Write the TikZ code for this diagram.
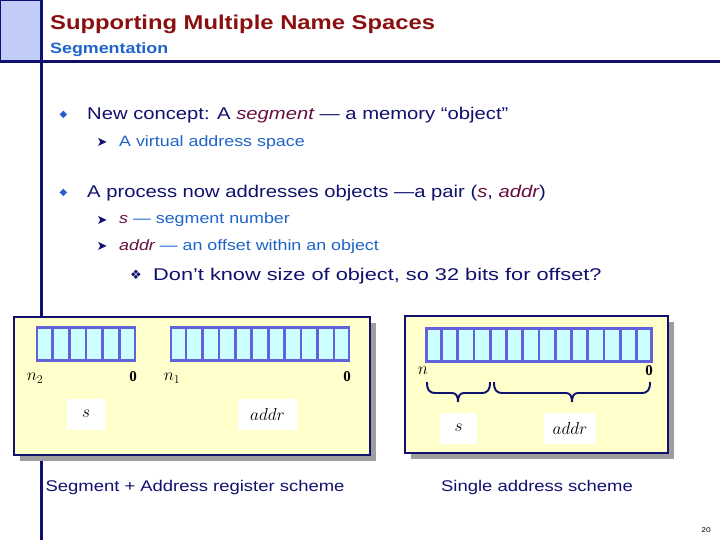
\documentclass[tikz,border=0pt]{standalone}
\usepackage{fontspec}
\setmainfont{Liberation Sans}[FakeStretch=1.19]
\newfontfamily\widefont{Liberation Sans}[FakeStretch=1.28]
\newfontfamily\symfont{DejaVu Sans}
\newfontfamily\serfont{Liberation Serif}
\usetikzlibrary{shadows,calc}
\definecolor{navy}{HTML}{10106E}
\definecolor{titlered}{HTML}{8A1010}
\definecolor{subblue}{HTML}{1E64C8}
\definecolor{itpurple}{HTML}{66103F}
\definecolor{sidefill}{HTML}{C2CCF8}
\definecolor{panelfill}{HTML}{FFFFCC}
\definecolor{regblue}{HTML}{6262DC}
\definecolor{regfill}{HTML}{CCFFFF}
\definecolor{bulletblue}{HTML}{2A5CD0}
\tikzset{
  txt/.style={inner sep=0pt, anchor=base west},
  dia/.style={inner sep=0pt, text=bulletblue, font=\symfont\fontsize{10}{12}\selectfont},
  arr/.style={inner sep=0pt, text=navy, font=\symfont\fontsize{13}{14}\selectfont},
  panel/.style={draw=navy, line width=2.2pt, fill=panelfill, inner sep=0pt,
    drop shadow={shadow xshift=6pt, shadow yshift=-6pt, fill=black!38, opacity=1}},
  reg/.style={draw=regblue, line width=2.6pt, fill=regfill, inner sep=0pt, minimum height=33pt},
  regline/.style={draw=regblue, line width=2.6pt},
  lbl/.style={inner sep=0pt, font=\fontsize{17.5}{20}\selectfont},
  zero/.style={inner sep=0pt, font=\serfont\bfseries\fontsize{15}{18}\selectfont},
  whitebox/.style={fill=white, inner sep=0pt, minimum height=31pt},
  brc/.style={draw=navy, line width=1.9pt},
  caption/.style={inner sep=0pt, text=navy, font=\fontsize{15.5}{18}\selectfont},
}
\begin{document}
\begin{tikzpicture}[x=1pt, y=-1pt]
\useasboundingbox (0,0) rectangle (720,540);
% header
\draw[navy, line width=1.5pt, fill=sidefill] (0,0) rectangle (40.5,61);
\draw[navy, line width=3pt] (0,61.5) -- (720,61.5);
\draw[navy, line width=3pt] (41.5,0) -- (41.5,540);
\node[txt, text=titlered, font=\bfseries\fontsize{20}{24}\selectfont] (title) at (50,29.5) {Supporting Multiple Name Spaces};
\node[txt, text=subblue, font=\bfseries\fontsize{15}{18}\selectfont] (subtitle) at (50,53.5) {Segmentation};
% bullets
\node[dia] (b1) at (63.5,114.5) {◆};
\node[txt, text=navy, font=\fontsize{17}{20}\selectfont] (t1) at (87,120) {New concept: A \textcolor{itpurple}{\itshape segment} — a memory “object”};
\node[arr] (a1) at (102,142) {➤};
\node[txt, text=subblue, font=\fontsize{15}{18}\selectfont] (t11) at (119,146.5) {A virtual address space};
\node[dia] (b2) at (63.5,192.5) {◆};
\node[txt, text=navy, font=\fontsize{17}{20}\selectfont] (t2) at (87,198) {A process now addresses objects —a pair (\textcolor{itpurple}{\itshape s}, \textcolor{itpurple}{\itshape addr})};
\node[arr] (a2) at (102,220) {➤};
\node[txt, text=subblue, font=\fontsize{15}{18}\selectfont] (t21) at (119,224) {\textcolor{itpurple}{\itshape s} — segment number};
\node[arr] (a3) at (102,246) {➤};
\node[txt, text=subblue, font=\fontsize{15}{18}\selectfont] (t22) at (119,250) {\textcolor{itpurple}{\itshape addr} — an offset within an object};
\node[txt, text=navy, font=\symfont\fontsize{13}{13}\selectfont] (a4) at (130,279) {❖};
\node[txt, text=navy, font=\widefont\fontsize{17}{20}\selectfont] (t3) at (153,280.5) {Don’t know size of object, so 32 bits for offset?};
% left panel
\node[panel, minimum width=356pt, minimum height=138pt] (lpanel) at (192,386) {};
\node[reg, minimum width=98pt] (lreg) at (86,344) {};
\foreach \i in {1,...,5}
  \draw[regline] ($(lreg.north west)!\i/6!(lreg.north east)$) -- ($(lreg.south west)!\i/6!(lreg.south east)$);
\node[reg, minimum width=178pt] (mreg) at (260,344) {};
\foreach \i in {1,...,10}
  \draw[regline] ($(mreg.north west)!\i/11!(mreg.north east)$) -- ($(mreg.south west)!\i/11!(mreg.south east)$);
\node[lbl] (n2) at (35,378) {$n_2$};
\node[zero] (z1) at (133,377) {0};
\node[lbl] (n1) at (172,378) {$n_1$};
\node[zero] (z2) at (347,377) {0};
\node[whitebox, minimum width=38pt] (sbox) at (86,414) {};
\node[lbl] (s1) at (86,414) {$s$};
\node[whitebox, minimum width=59pt] (abox) at (267.5,414) {};
\node[lbl] (addr1) at (267.5,414) {$addr$};
% right panel
\node[panel, minimum width=263pt, minimum height=137pt] (rpanel) at (536.5,384.5) {};
\node[reg, minimum width=225pt] (rreg) at (539,345) {};
\foreach \i in {1,...,13}
  \draw[regline] ($(rreg.north west)!\i/14!(rreg.north east)$) -- ($(rreg.south west)!\i/14!(rreg.south east)$);
\node[lbl] (nn) at (423,371) {$n$};
\node[zero] (z3) at (649,371) {0};
% braces
\draw[brc] (427,382) .. controls (427,390) and (429,393) .. (436,393)
  -- (452,393) .. controls (456,393) and (458,396) .. (458,402)
  .. controls (458,396) and (460,393) .. (464,393)
  -- (481,393) .. controls (488,393) and (490,390) .. (490,382);
\draw[brc] (494,382) .. controls (494,390) and (496,393) .. (503,393)
  -- (566,393) .. controls (570,393) and (572,396) .. (572,402)
  .. controls (572,396) and (574,393) .. (578,393)
  -- (641,393) .. controls (648,393) and (650,390) .. (650,382);
\node[whitebox, minimum width=37pt] (sbox2) at (458.5,428) {};
\node[lbl] (s2) at (458.5,428) {$s$};
\node[whitebox, minimum width=52pt] (abox2) at (570,428) {};
\node[lbl] (addr2) at (570,428) {$addr$};
% captions
\node[caption] (cap1) at (195,487) {Segment + Address register scheme};
\node[caption] (cap2) at (537,487) {Single address scheme};
\node[inner sep=0pt, font=\fontsize{7}{8}\selectfont] (pg) at (706,530) {20};
\end{tikzpicture}
\end{document}
